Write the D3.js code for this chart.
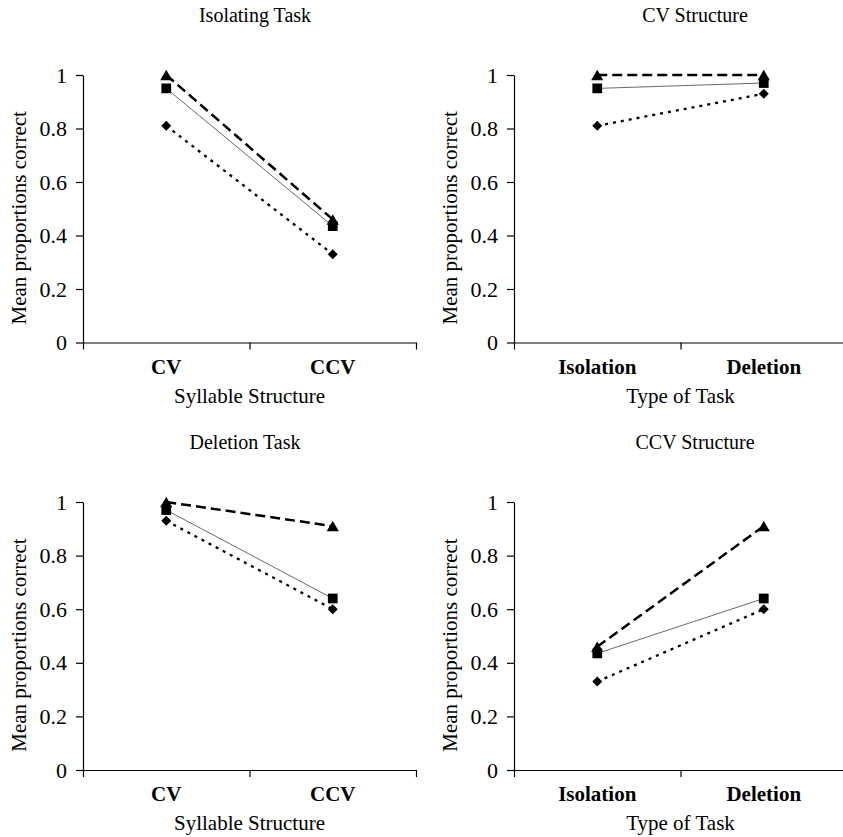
<!DOCTYPE html>
<html>
<head>
<meta charset="utf-8">
<script src="https://cdn.jsdelivr.net/npm/d3@7"></script>
<style>
  body { margin: 0; background: #fff; }
  svg text { font-family: "Liberation Serif", "Times New Roman", serif; fill: #000; }
</style>
</head>
<body>
<div class="chart"></div>
<script>
// categories
var syllables = ["CV", "CCV"];
var tasks = ["Isolation", "Deletion"];
var yTicks = [0, 0.2, 0.4, 0.6, 0.8, 1];

// values per group, [CV, CCV]
var triIsolation = [1.00, 0.46];
var triDeletion = [1.00, 0.91];
var sqIsolation = [0.95, 0.435];
var sqDeletion = [0.97, 0.64];
var diaIsolation = [0.81, 0.33];
var diaDeletion = [0.93, 0.60];

var width = 843, height = 837;

var svg = d3.select(".chart")
    .append("svg")
    .attr("width", width)
    .attr("height", height);

// triangle / diamond drawn centred in their box, like the spreadsheet markers
var triangleBox = {
    draw: function(ctx, size) {
        var w = Math.sqrt(size) * 1.55, h = w * 0.85;
        ctx.moveTo(0, -h / 2);
        ctx.lineTo(w / 2, h / 2);
        ctx.lineTo(-w / 2, h / 2);
        ctx.closePath();
    }
};
var diamondBox = {
    draw: function(ctx, size) {
        var r = Math.sqrt(size) / 2;
        ctx.moveTo(0, -r);
        ctx.lineTo(r, 0);
        ctx.lineTo(0, r);
        ctx.lineTo(-r, 0);
        ctx.closePath();
    }
};

var styles = [
    {symbol: triangleBox, size: 62, stroke: "#000", width: 2.5, dash: "10,5"},
    {symbol: d3.symbolSquare, size: 95, stroke: "#6b6b6b", width: 1, dash: null},
    {symbol: diamondBox, size: 100, stroke: "#000", width: 2.3, dash: "3,5"}
];

// CV Structure / CCV Structure panels pick one category from each task
function pick(i) {
    return [
        [triIsolation[i], triDeletion[i]],
        [sqIsolation[i], sqDeletion[i]],
        [diaIsolation[i], diaDeletion[i]]
    ];
}

var panels = [
    {title: "Isolating Task", cats: syllables, xTitle: "Syllable Structure",
     series: [triIsolation, sqIsolation, diaIsolation],
     left: 83, top: 75, bottom: 342.5, titleX: 255},
    {title: "CV Structure", cats: tasks, xTitle: "Type of Task",
     series: pick(0),
     left: 514, top: 75, bottom: 342.5, titleX: 695},
    {title: "Deletion Task", cats: syllables, xTitle: "Syllable Structure",
     series: [triDeletion, sqDeletion, diaDeletion],
     left: 83, top: 502, bottom: 770, titleX: 245},
    {title: "CCV Structure", cats: tasks, xTitle: "Type of Task",
     series: pick(1),
     left: 514, top: 502, bottom: 770, titleX: 695}
];

var plotW = 333;

panels.forEach(function(p) {
    var g = svg.append("g");

    var x = d3.scaleBand()
        .domain(p.cats)
        .range([p.left, p.left + plotW]);

    var y = d3.scaleLinear()
        .domain([0, 1])
        .range([p.bottom, p.top]);

    // ticks sit between the categories
    var xEdge = d3.scaleLinear()
        .domain([0, p.cats.length])
        .range([p.left, p.left + plotW]);

    g.append("g")
        .attr("transform", "translate(0," + p.bottom + ")")
        .call(d3.axisBottom(xEdge)
            .tickValues(d3.range(p.cats.length + 1))
            .tickSize(7)
            .tickSizeOuter(0)
            .tickFormat(""))
        .call(function(a) {
            a.selectAll("path, line").attr("stroke", "#000").attr("stroke-width", 1.2);
        });

    g.append("g")
        .attr("transform", "translate(" + p.left + ",0)")
        .call(d3.axisLeft(y)
            .tickValues(yTicks)
            .tickSize(7)
            .tickSizeOuter(0)
            .tickPadding(9)
            .tickFormat(function(d) { return d === 0 || d === 1 ? d : d3.format(".1f")(d); }))
        .call(function(a) {
            a.selectAll("path, line").attr("stroke", "#000").attr("stroke-width", 1.2);
            a.selectAll("text")
                .attr("font-size", 22)
                .attr("fill", "#000");
        });

    g.selectAll(".cat")
        .data(p.cats)
        .enter()
        .append("text")
        .attr("x", function(d) { return x(d) + x.bandwidth() / 2; })
        .attr("y", p.bottom + 31)
        .attr("text-anchor", "middle")
        .attr("font-size", 21)
        .attr("font-weight", "bold")
        .text(function(d) { return d; });

    g.append("text")
        .attr("x", p.left + plotW / 2)
        .attr("y", p.bottom + 60)
        .attr("text-anchor", "middle")
        .attr("font-size", 21)
        .text(p.xTitle);

    g.append("text")
        .attr("transform", "translate(" + (p.left - 57) + "," + ((p.top + p.bottom) / 2 + 9) + ") rotate(-90)")
        .attr("text-anchor", "middle")
        .attr("font-size", 21)
        .text("Mean proportions correct");

    g.append("text")
        .attr("x", p.titleX)
        .attr("y", p.top - 53)
        .attr("text-anchor", "middle")
        .attr("font-size", 20)
        .text(p.title);

    var line = d3.line()
        .x(function(d, i) { return x(p.cats[i]) + x.bandwidth() / 2; })
        .y(function(d) { return y(d); });

    p.series.forEach(function(vals, k) {
        var s = styles[k];
        g.append("path")
            .datum(vals)
            .attr("d", line)
            .attr("fill", "none")
            .attr("stroke", s.stroke)
            .attr("stroke-width", s.width)
            .attr("stroke-dasharray", s.dash);
    });

    // markers on top of the lines
    p.series.forEach(function(vals, k) {
        var s = styles[k];
        g.selectAll(".m" + k)
            .data(vals)
            .enter()
            .append("path")
            .attr("d", d3.symbol().type(s.symbol).size(s.size))
            .attr("transform", function(d, i) {
                return "translate(" + (x(p.cats[i]) + x.bandwidth() / 2) + "," + y(d) + ")";
            })
            .attr("fill", "#000");
    });
});
</script>
</body>
</html>
